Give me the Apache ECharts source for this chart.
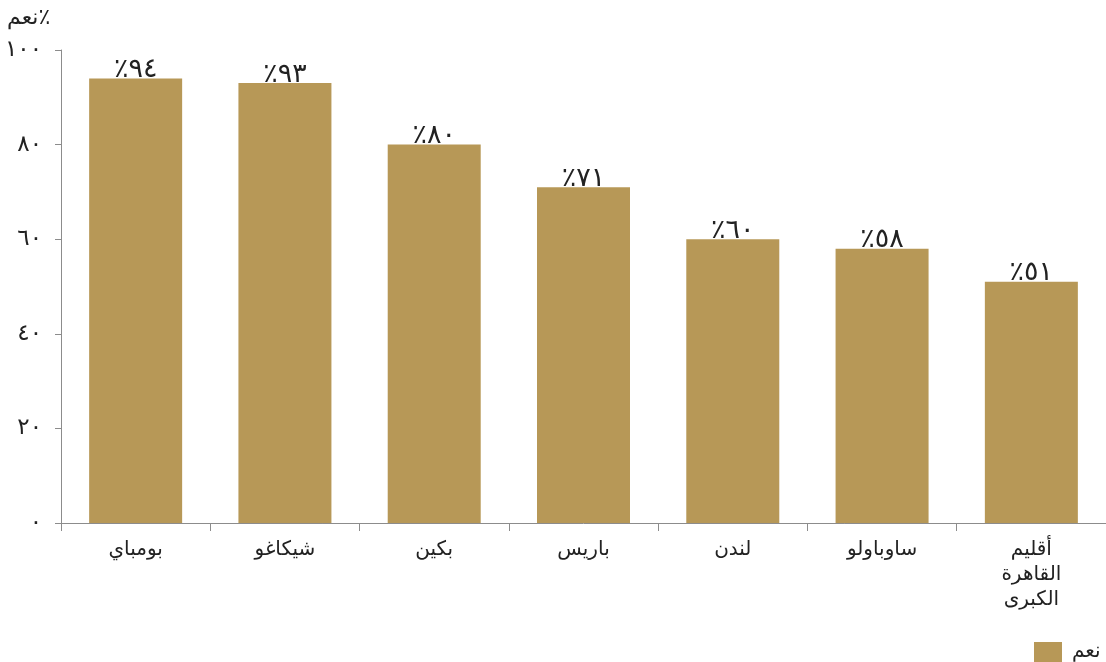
<!DOCTYPE html>
<html>
<head>
<meta charset="utf-8">
<script src="https://cdn.jsdelivr.net/npm/echarts@6/dist/echarts.min.js"></script>
<style>
html, body { margin: 0; padding: 0; background: #ffffff; }
#main { width: 1106px; height: 662px; }
</style>
</head>
<body>
<div id="main"></div>
<script>
// 城市 / 数值
var cities = ['بومباي', 'شيكاغو', 'بكين', 'باريس', 'لندن', 'ساوباولو', 'أقليم\nالقاهرة\nالكبرى'];
var yesValues = [94, 93, 80, 71, 60, 58, 51];
var yTickLabels = { 0: '٠', 20: '٢٠', 40: '٤٠', 60: '٦٠', 80: '٨٠', 100: '١٠٠' };
var arabicDigits = ['٠', '١', '٢', '٣', '٤', '٥', '٦', '٧', '٨', '٩'];

function toArabic(n) {
	return String(n).replace(/[0-9]/g, function (d) { return arabicDigits[+d]; });
}

var fontFam = '"DejaVu Sans", "Noto Sans", sans-serif';

var option = {
	animation: false,
	title: {
		text: 'نعم٪',
		left: 2,
		top: 2,
		textStyle: { color: '#222222', fontSize: 22, fontWeight: 'normal', fontFamily: fontFam }
	},
	color: ['#b79857'],
	legend: {
		data: [{ name: 'نعم', icon: 'rect' }],
		left: 1034,
		top: 642,
		padding: 0,
		itemWidth: 28,
		itemHeight: 20,
		itemGap: 10,
		textStyle: { color: '#222222', fontSize: 20, fontFamily: fontFam, padding: [0, 0, 0, 5] }
	},
	grid: {
		left: 61,
		right: 0,
		top: 50,
		bottom: 139,
		containLabel: false
	},
	xAxis: {
		type: 'category',
		data: cities,
		axisLine: { lineStyle: { color: '#8c8c8c', width: 1 } },
		axisTick: { show: true, length: 8, alignWithLabel: false, lineStyle: { color: '#8c8c8c' } },
		axisLabel: {
			color: '#222222',
			fontSize: 20,
			fontFamily: fontFam,
			margin: 14,
			lineHeight: 25,
			interval: 0
		}
	},
	yAxis: {
		type: 'value',
		min: 0,
		max: 100,
		interval: 20,
		splitLine: { show: false }, // 去除网格线
		axisLine: { show: true, lineStyle: { color: '#8c8c8c', width: 1 } },
		axisTick: { show: true, length: 6, lineStyle: { color: '#8c8c8c' } },
		axisLabel: {
			color: '#222222',
			fontSize: 23,
			fontFamily: fontFam,
			margin: 19,
			formatter: function (v) { return yTickLabels[v]; }
		}
	},
	series: [{
		name: 'نعم',
		type: 'bar',
		data: yesValues,
		barWidth: 93,
		label: {
			show: true,
			position: 'top',
			distance: -5,
			color: '#222222',
			fontSize: 27,
			fontFamily: fontFam,
			formatter: function (p) { return '٪' + toArabic(p.value); }
		}
	}]
};

var myChart = echarts.init(document.getElementById('main'));
myChart.setOption(option, true);
</script>
</body>
</html>
